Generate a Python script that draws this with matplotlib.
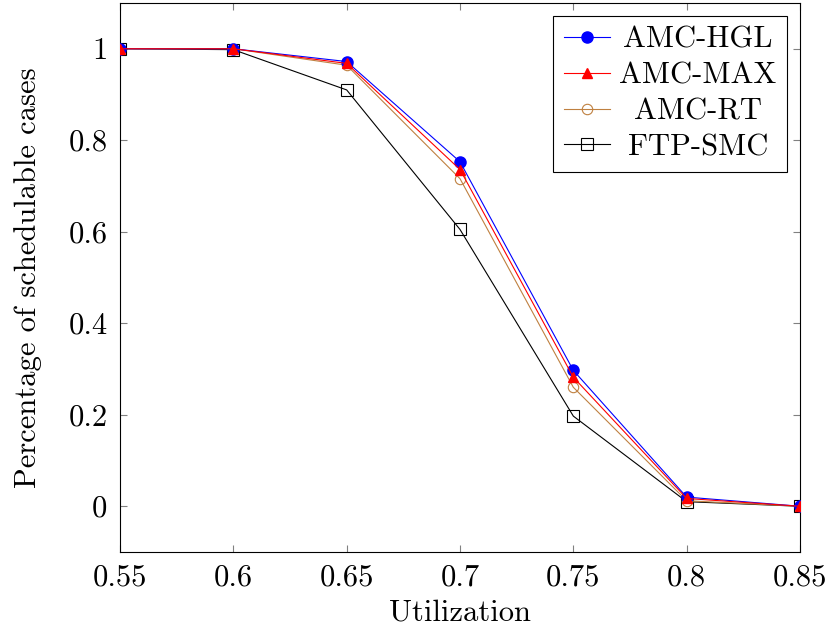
import matplotlib
matplotlib.use("Agg")
import matplotlib.pyplot as plt

plt.rcParams['font.family'] = ['cmr10', 'DejaVu Serif']
plt.rcParams['mathtext.fontset'] = 'cm'
plt.rcParams['axes.unicode_minus'] = False
plt.rcParams['axes.formatter.use_mathtext'] = True

utilization = [0.55, 0.6, 0.65, 0.7, 0.75, 0.8, 0.85]
amc_hgl = [1.0, 1.0, 0.972, 0.753, 0.297, 0.020, 0.0]
amc_max = [1.0, 1.0, 0.968, 0.736, 0.282, 0.017, 0.0]
amc_rt = [1.0, 1.0, 0.964, 0.716, 0.260, 0.012, 0.0]
ftp_smc = [1.0, 0.998, 0.910, 0.605, 0.197, 0.010, 0.0]

x_ticks = [0.55, 0.6, 0.65, 0.7, 0.75, 0.8, 0.85]
x_ticklabels = ["0.55", "0.6", "0.65", "0.7", "0.75", "0.8", "0.85"]
y_ticks = [0, 0.2, 0.4, 0.6, 0.8, 1]
y_ticklabels = ["0", "0.2", "0.4", "0.6", "0.8", "1"]

FS = 22

fig = plt.figure(figsize=(8.3, 6.32), dpi=100)
ax = fig.add_axes([120/830, 1 - 552/632, 680/830, 549/632])

brown = (0.75, 0.5, 0.25)
ax.plot(utilization, amc_hgl, color='blue', lw=0.8, marker='o', ms=8,
        mfc='blue', mec='blue', label='AMC-HGL', zorder=4)
ax.plot(utilization, amc_max, color='red', lw=0.8, marker='^', ms=7.5,
        mfc='red', mec='red', label='AMC-MAX', zorder=5)
ax.plot(utilization, amc_rt, color=brown, lw=0.8, marker='o', ms=7.5,
        mfc='none', mec=brown, mew=0.8, label='AMC-RT', zorder=3)
ax.plot(utilization, ftp_smc, color='black', lw=0.8, marker='s', ms=8,
        mfc='none', mec='black', mew=0.8, label='FTP-SMC', zorder=2)

ax.set_xlim(0.55, 0.85)
ax.set_ylim(-0.1, 1.1)
ax.set_xticks(x_ticks)
ax.set_xticklabels(x_ticklabels)
ax.set_yticks(y_ticks)
ax.set_yticklabels(y_ticklabels)
ax.tick_params(direction='in', top=True, right=True, length=5, width=0.8,
               color='0.5', labelsize=FS, pad=9)
for s in ax.spines.values():
    s.set_linewidth(0.8)

ax.set_xlabel('Utilization', fontsize=FS, labelpad=5)
ax.set_ylabel('Percentage of schedulable cases', fontsize=FS, labelpad=19)

leg = ax.legend(loc='upper right', fontsize=FS, frameon=True, fancybox=False,
                edgecolor='black', framealpha=1, borderaxespad=0.42,
                handlelength=1.5, handletextpad=0.3, labelspacing=0.27,
                borderpad=0.35, numpoints=1)
leg.get_frame().set_linewidth(0.8)

# center legend labels like pgfplots
renderer = fig.canvas.get_renderer()
texts = leg.get_texts()
widths = [t.get_window_extent(renderer).width for t in texts]
W = max(widths)
for t, w in zip(texts, widths):
    t.set_position(((W - w) / 2, 0))

fig.savefig('out.png', dpi=100)
